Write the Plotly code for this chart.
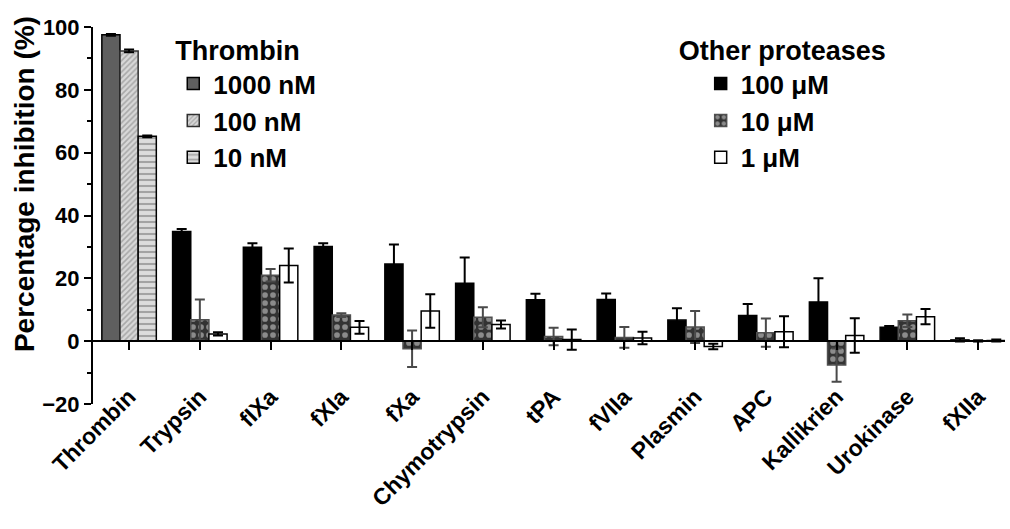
import plotly.graph_objects as go

# Enzymes tested (x categories)
categories = ["Thrombin", "Trypsin", "fIXa", "fXIa", "fXa", "Chymotrypsin", "tPA",
              "fVIIa", "Plasmin", "APC", "Kallikrien", "Urokinase", "fXIIa"]

# Thrombin inhibition at three inhibitor concentrations (mean, error)
thrombin_1000nM = [97.5]
thrombin_1000nM_err = [0.3]
thrombin_100nM = [92.4]
thrombin_100nM_err = [0.4]
thrombin_10nM = [65.2]
thrombin_10nM_err = [0.3]

# Other proteases (Trypsin ... fXIIa)
other_100uM = [34.9, 29.9, 30.1, 24.6, 18.4, 13.2, 13.3, 6.7, 8.2, 12.5, 4.4, 0.4]
other_100uM_err = [0.8, 1.3, 1.1, 6.2, 8.2, 1.9, 1.9, 3.8, 3.6, 7.5, 0.4, 0.5]
other_10uM = [6.8, 21.0, 8.3, -2.4, 7.6, 1.5, 1.2, 4.5, 2.7, -7.6, 6.5, 0.1]
other_10uM_err = [6.5, 2.0, 0.6, 5.8, 3.2, 2.8, 3.3, 5.1, 4.5, 5.3, 2.0, 0.3]
other_1uM = [2.3, 24.1, 4.4, 9.6, 5.3, 0.5, 1.0, -1.7, 3.0, 1.8, 7.8, 0.2]
other_1uM_err = [0.5, 5.4, 2.0, 5.3, 1.3, 3.2, 2.0, 0.9, 4.9, 5.5, 2.4, 0.3]

y_ticks = [-20, 0, 20, 40, 60, 80, 100]
grid_ticks = [20, 40, 60, 80, 100]

FONT = "Liberation Sans, Arial, sans-serif"
others = categories[1:]


def err(vals, color="black"):
    return dict(type="data", array=vals, visible=True, color=color,
                thickness=2, width=5)


fig = go.Figure()

fig.add_trace(go.Bar(
    name="1000 nM", x=categories[:1], y=thrombin_1000nM, offsetgroup="a",
    error_y=err(thrombin_1000nM_err), legend="legend",
    marker=dict(color="#5f5f5f", line=dict(color="black", width=1.5))))
fig.add_trace(go.Bar(
    name="100 nM", x=categories[:1], y=thrombin_100nM, offsetgroup="b",
    error_y=err(thrombin_100nM_err), legend="legend",
    marker=dict(color="#d0d0d0", line=dict(color="#303030", width=1.5),
                pattern=dict(shape="/", fgcolor="#7a7a7a", bgcolor="#d8d8d8",
                             size=4, solidity=0.4))))
fig.add_trace(go.Bar(
    name="10 nM", x=categories[:1], y=thrombin_10nM, offsetgroup="c",
    error_y=err(thrombin_10nM_err), legend="legend",
    marker=dict(color="#d8d8d8", line=dict(color="black", width=1.5),
                pattern=dict(shape="-", fgcolor="#6a6a6a", bgcolor="#dcdcdc",
                             size=6, solidity=0.35))))

fig.add_trace(go.Bar(
    name="100 μM", x=others, y=other_100uM, offsetgroup="a",
    error_y=err(other_100uM_err), legend="legend2",
    marker=dict(color="black", line=dict(color="black", width=1.5))))
fig.add_trace(go.Bar(
    name="10 μM", x=others, y=other_10uM, offsetgroup="b",
    error_y=err(other_10uM_err, "#4a4a4a"), legend="legend2",
    marker=dict(color="#3a3a3a", line=dict(color="#505050", width=1.5),
                pattern=dict(shape=".", fgcolor="#e4e4e4", bgcolor="#333333",
                             size=8, solidity=0.4))))
fig.add_trace(go.Bar(
    name="1 μM", x=others, y=other_1uM, offsetgroup="c",
    error_y=err(other_1uM_err), legend="legend2",
    marker=dict(color="white", line=dict(color="black", width=1.5))))

title_font = dict(family=FONT, size=27, color="black", weight="bold")
item_font = dict(family=FONT, size=26, color="black", weight="bold")

fig.update_layout(
    width=1010, height=529,
    margin=dict(l=93, r=5, t=27, b=125),
    paper_bgcolor="white", plot_bgcolor="white",
    barmode="group", bargap=0.23, bargroupgap=0,
    font=dict(family=FONT, color="black"),
    showlegend=True,
    legend=dict(
        title=dict(text="Thrombin", font=title_font),
        font=item_font, x=0.088, y=1.005, xanchor="left", yanchor="top",
        bgcolor="white", borderwidth=0, tracegroupgap=0, traceorder="normal",
        itemclick=False),
    legend2=dict(
        title=dict(text="Other proteases", font=title_font),
        font=item_font, x=0.64, y=1.005, xanchor="left", yanchor="top",
        bgcolor="white", borderwidth=0, indentation=24, traceorder="normal",
        itemclick=False),
    xaxis=dict(
        type="category", categoryorder="array", categoryarray=categories,
        range=[-0.51, 12.38], anchor="free", position=20 / 120,
        showline=True, linecolor="black", linewidth=2,
        ticks="outside", ticklen=8, tickwidth=2, tickcolor="black",
        tickangle=-45, ticklabelstandoff=24, showgrid=False, zeroline=False,
        tickfont=dict(family=FONT, size=23, color="black", weight="bold")),
    yaxis=dict(
        range=[-20, 100], tickvals=y_ticks, showgrid=False, zeroline=False,
        showline=True, linecolor="black", linewidth=2,
        ticks="outside", ticklen=7, tickwidth=1.5, tickcolor="black",
        minor=dict(dtick=10, ticklen=4, tickwidth=1.5, tickcolor="black",
                   ticks="outside"),
        tickfont=dict(family=FONT, size=22, color="black", weight="bold")),
    yaxis2=dict(
        overlaying="y", range=[-20, 100], tickvals=grid_ticks,
        showgrid=True, gridcolor="black", gridwidth=1, griddash="3px,2px",
        showticklabels=False, ticks="", showline=False, zeroline=False),
    annotations=[dict(
        text="Percentage inhibition (%)", textangle=-90,
        xref="paper", x=0, xshift=-69, xanchor="center",
        yref="y", y=50, yanchor="middle", showarrow=False,
        font=dict(family=FONT, size=28, color="black", weight="bold"))],
)

fig.write_html("out.html")
